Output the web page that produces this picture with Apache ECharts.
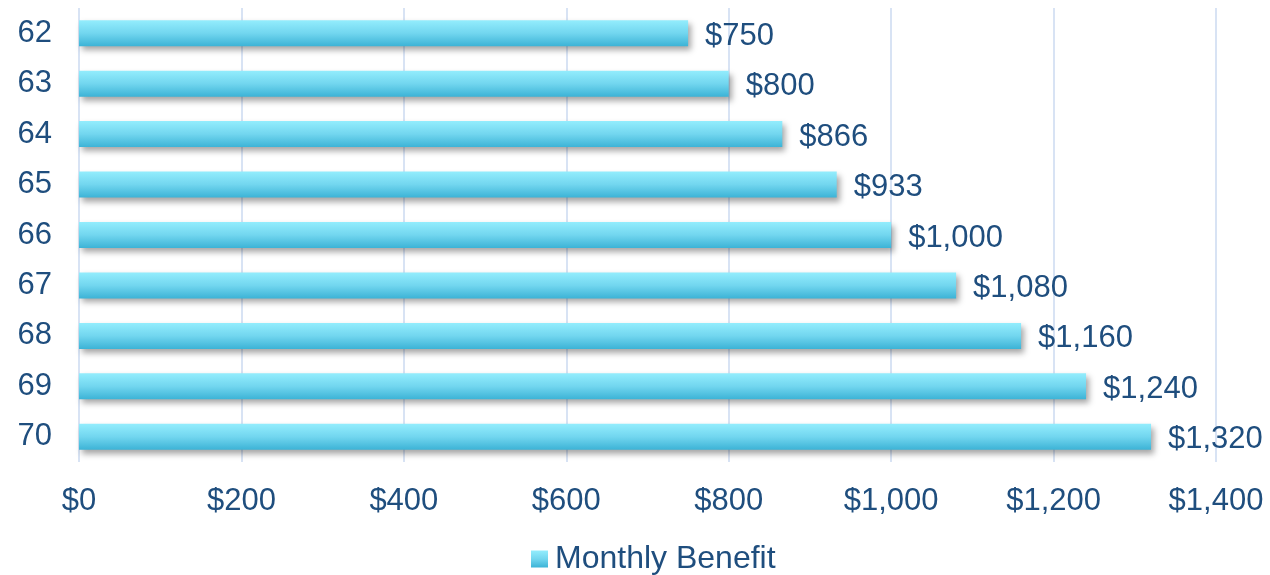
<!DOCTYPE html>
<html>
<head>
<meta charset="utf-8">
<script src="https://cdn.jsdelivr.net/npm/echarts@6/dist/echarts.min.js"></script>
<style>
	html, body { margin: 0; padding: 0; background: #fff; }
	#chart { width: 1270px; height: 575px; }
</style>
</head>
<body>
<div id="chart"></div>
<script>
var ages = ['62', '63', '64', '65', '66', '67', '68', '69', '70'];
var benefit = [750, 800, 866, 933, 1000, 1080, 1160, 1240, 1320];
var xTicks = [0, 200, 400, 600, 800, 1000, 1200, 1400];

var textColor = '#1f4e7e';

function money(v) {
	return '$' + v.toString().replace(/\B(?=(\d{3})+(?!\d))/g, ',');
}

var barFill = new echarts.graphic.LinearGradient(0, 0, 0, 1, [
	{ offset: 0, color: '#93edfd' },
	{ offset: 0.5, color: '#72d6ef' },
	{ offset: 1, color: '#3cb3d6' }
]);

var myChart = echarts.init(document.getElementById('chart'));
var option = {
	animation: false,
	textStyle: { fontFamily: 'Liberation Sans, Arial, sans-serif' },
	grid: {
		left: 79,
		right: 54,
		top: 8,
		height: 454
	},
	legend: {
		bottom: -5,
		left: 526,
		itemWidth: 17,
		itemHeight: 17,
		itemGap: 10,
		textStyle: { color: textColor, fontSize: 32, padding: [0, 0, 0, 2] },
		data: [{ name: 'Monthly Benefit', icon: 'rect' }]
	},
	xAxis: {
		type: 'value',
		min: xTicks[0],
		max: xTicks[xTicks.length - 1],
		interval: 200,
		axisLine: { show: false },
		axisTick: { show: false },
		axisLabel: {
			color: textColor,
			fontSize: 31,
			margin: 24,
			formatter: money
		},
		splitLine: { lineStyle: { color: '#d8e3f4', width: 2 } }
	},
	yAxis: {
		type: 'category',
		inverse: true,
		data: ages,
		axisLine: { show: false },
		axisTick: { show: false },
		axisLabel: { color: textColor, fontSize: 31, margin: 27, padding: [4, 0, 0, 0] }
	},
	series: [{
		name: 'Monthly Benefit',
		type: 'bar',
		data: benefit,
		barWidth: 26,
		itemStyle: {
			color: barFill,
			shadowColor: 'rgba(0,0,0,0.35)',
			shadowBlur: 6,
			shadowOffsetX: 3,
			shadowOffsetY: 4
		},
		label: {
			show: true,
			position: 'right',
			distance: 17,
			offset: [0, 3],
			color: textColor,
			fontSize: 31,
			formatter: function(p) { return money(p.value); }
		}
	}]
};
myChart.setOption(option);
</script>
</body>
</html>
